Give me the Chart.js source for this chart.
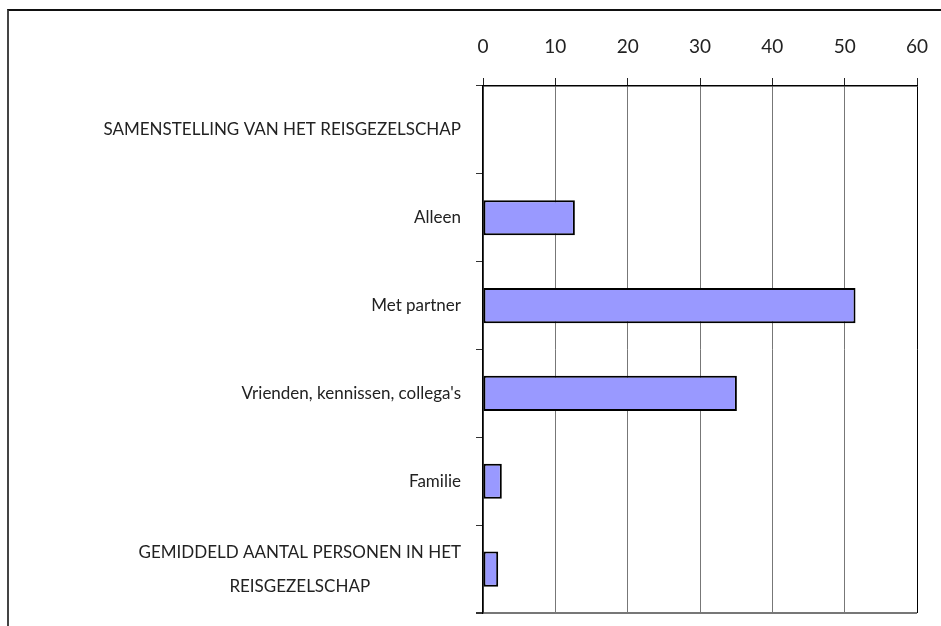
<!DOCTYPE html>
<html>
<head>
<meta charset="utf-8">
<script src="https://cdn.jsdelivr.net/npm/chart.js@4.4.0/dist/chart.umd.min.js"></script>
<style>
  html, body { margin: 0; padding: 0; background: #fff; }
  #wrap { position: relative; width: 941px; height: 626px; }
  #frame { position: absolute; left: 7px; top: 9px; right: 0; bottom: 0;
           border-top: 2px solid #111; border-left: 2px solid #444; }
  #canvas-chart { position: absolute; left: 0; top: 0; }
</style>
</head>
<body>
<div id="wrap">
  <div id="frame"></div>
  <canvas id="canvas-chart" width="941" height="626"></canvas>
</div>
<script>
// data
const categories = [
    ['SAMENSTELLING VAN HET REISGEZELSCHAP'],
    ['Alleen'],
    ['Met partner'],
    ["Vrienden, kennissen, collega's"],
    ['Familie'],
    ['GEMIDDELD AANTAL PERSONEN IN HET', 'REISGEZELSCHAP']
];
const percentages = [null, 12.7, 51.5, 35.1, 2.6, 2.1];
const xTicks = [0, 10, 20, 30, 40, 50, 60];

const labelFont = '17px Lato';

// draws the category labels, multi-line ones centred within their block
const yLabels = {
    id: 'yLabels',
    afterDraw(chart) {
        const ctx = chart.ctx;
        const y = chart.scales.y;
        const right = y.right - 22;
        const lineH = 34;
        ctx.save();
        ctx.font = labelFont;
        ctx.fillStyle = '#222';
        ctx.textAlign = 'center';
        ctx.textBaseline = 'middle';
        categories.forEach((lines, i) => {
            const w = Math.max(...lines.map(l => ctx.measureText(l).width));
            const cx = right - w / 2;
            const cy = y.getPixelForValue(i);
            lines.forEach((l, j) => {
                ctx.fillText(l, cx, cy + (j - (lines.length - 1) / 2) * lineH);
            });
        });
        ctx.restore();
    }
};

// the closing (offset) grid line of the category axis gets the scale context
const isClosing = c => c.type !== 'tick';

document.addEventListener("DOMContentLoaded", () => {
    const config = {
        type: 'bar',
        data: {
            labels: categories.map(c => c.join(' ')),
            datasets: [{
                data: percentages,
                backgroundColor: '#9999ff',
                borderColor: '#000',
                borderWidth: 2,
                borderSkipped: false,
                categoryPercentage: 1,
                barPercentage: 0.4
            }]
        },
        options: {
            indexAxis: 'y',
            responsive: false,
            animation: false,
            layout: { padding: { left: 0, right: 24, top: 0, bottom: 13 } },
            plugins: {
                legend: { display: false },
                tooltip: { enabled: false }
            },
            scales: {
                x: {
                    position: 'top',
                    min: 0,
                    max: 60,
                    afterFit: s => { s.height = 86; s.paddingLeft = 0; s.paddingRight = 0; },
                    afterBuildTicks: s => { s.ticks = xTicks.map(v => ({ value: v })); },
                    grid: {
                        color: c => (c.tick && c.tick.value === 60) ? '#000' : '#777',
                        lineWidth: 1,
                        tickLength: 8,
                        tickColor: '#222'
                    },
                    border: { color: '#000', width: 1.5 },
                    ticks: {
                        font: { family: 'Lato', size: 19 },
                        color: '#222',
                        padding: 20,
                        maxRotation: 0
                    }
                },
                y: {
                    afterFit: s => { s.width = 483; },
                    grid: {
                        offset: true,
                        drawOnChartArea: true,
                        tickLength: 7,
                        color: c => isClosing(c) ? '#777' : 'rgba(0,0,0,0)',
                        lineWidth: c => isClosing(c) ? 2 : 1,
                        tickColor: '#333'
                    },
                    border: { color: '#000', width: 1.5 },
                    ticks: { display: false }
                }
            }
        },
        plugins: [yLabels]
    };
    const ctx = document.getElementById("canvas-chart").getContext("2d");
    const myChart = new Chart(ctx, config);
});
</script>
</body>
</html>
